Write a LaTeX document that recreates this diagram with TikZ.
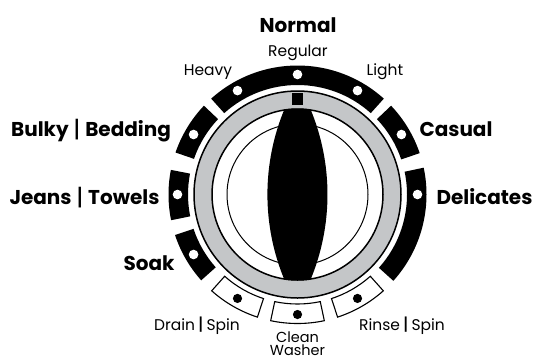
\documentclass[tikz,border=0pt]{standalone}
\usepackage{fontspec}
\setmainfont{Poppins}
\definecolor{ringgray}{HTML}{C4C6C8}
\newcommand{\bandseg}[3][fill=black]{\path[#1] (#2:109.5) arc[start angle=#2,end angle=#3,radius=109.5] -- (#3:129) arc[start angle=#3,end angle=#2,radius=129] -- cycle;}
\newcommand{\bigbar}{\hspace{4.5pt}{\mdseries\raisebox{-1pt}{\scalebox{1.3}[1.15]{|}}}\hspace{4.5pt}}
\newcommand{\smallbar}{\hspace{2.8pt}\raisebox{-0.5pt}{\scalebox{1.3}[1.1]{|}}\hspace{2.8pt}}
\tikzset{
  bigl/.style={font=\fontsize{20}{20}\selectfont\bfseries,inner sep=0pt,anchor=base},
  smalll/.style={font=\fontsize{15.5}{15.5}\selectfont,inner sep=0pt,anchor=base},
  tightl/.style={font=\fontsize{14.5}{14.5}\selectfont,inner sep=0pt,anchor=base},
  whitedot/.style={fill=white,draw=none},
  blackdot/.style={fill=black,draw=none},
  button/.style={fill=white,draw=black,line width=1.1pt,line join=miter}
}
\begin{document}
\begin{tikzpicture}[x=1pt,y=1pt]
\useasboundingbox (0,0) rectangle (536,-360);
\fill[white] (0,0) rectangle (536,-360);
\begin{scope}[shift={(297.5,-194.5)}]
  \bandseg{48}{132}
  \bandseg{136.5}{161}
  \bandseg{169}{191.5}
  \bandseg{198.3}{221.7}
  \bandseg{18.7}{43.5}
  \bandseg{-42}{12}
  \bandseg[button]{228.3}{251.9}
  \bandseg[button]{258}{282}
  \bandseg[button]{288.1}{311.7}
  \foreach \a in {0,30,60,90,120,150,180,210}{\fill[whitedot] (\a:120) circle[radius=4.8];}
  \foreach \a in {240,270,300}{\fill[blackdot] (\a:120) circle[radius=4.6];}
  \filldraw[fill=ringgray,draw=black,line width=1.5pt] (0,0) circle[radius=103.5];
  \filldraw[fill=white,draw=black,line width=1.5pt] (0,0) circle[radius=85.5];
  \draw[black,line width=1pt] (0,0) circle[radius=70.5];
  \begin{scope}
    \clip (0,0) circle[radius=86];
    \fill[black] (-192.5,0) ++(-22.9:222.5) arc[start angle=-22.9,end angle=22.9,radius=222.5]
      -- ++(-25,0)
      arc[start angle=157.1,end angle=202.9,radius=222.5] -- cycle;
  \end{scope}
  \fill[black] (-5.5,89.5) rectangle (5.5,101.8);
\end{scope}
\node[bigl] (normal) at (298,-32) {Normal};
\node[smalll] (regular) at (298,-56) {Regular};
\node[smalll] (heavy) at (208,-75) {Heavy};
\node[smalll] (light) at (385,-75) {Light};
\node[bigl] (bulky) at (91,-136) {Bulky\bigbar Bedding};
\node[bigl] (casual) at (456,-136) {Casual};
\node[bigl] (jeans) at (84.5,-204) {Jeans\bigbar Towels};
\node[bigl] (delicates) at (484.5,-204) {Delicates};
\node[bigl] (soak) at (149,-270) {Soak};
\node[smalll] (drain) at (197,-330) {Drain\smallbar Spin};
\node[tightl] (clean) at (297.5,-342) {Clean};
\node[tightl] (washer) at (297.5,-355.5) {Washer};
\node[smalll] (rinse) at (402,-330) {Rinse\smallbar Spin};
\end{tikzpicture}
\end{document}
